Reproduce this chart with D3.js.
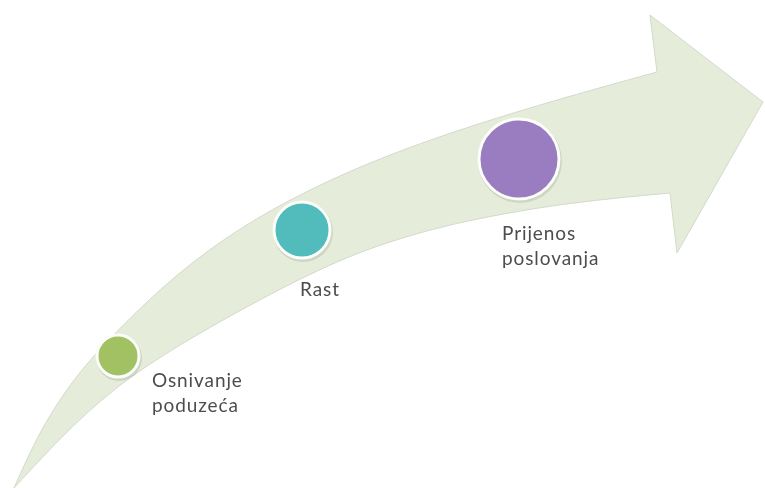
<!DOCTYPE html>
<html>
<head>
<meta charset="utf-8">
<script src="https://cdn.jsdelivr.net/npm/d3@7"></script>
<style>
  body { margin: 0; background: #fff; }
  svg { display: block; }
</style>
</head>
<body>
<script>
//stages of the process
var stages = ["Osnivanje poduzeća", "Rast", "Prijenos poslovanja"];
var stageLines = [["Osnivanje", "poduzeća"], ["Rast"], ["Prijenos", "poslovanja"]];
var stageColors = ["#a2c163", "#52bcbc", "#9a7cc0"];
var stageSize = [1, 2, 3];

drawChart();

function drawChart(){
    var width = 765,
        height = 488;

    var svg = d3.select("body")
        .append("svg")
        .attr("width", width)
        .attr("height", height);

    var defs = svg.append("defs");
    var blur = defs.append("filter").attr("id", "soft")
        .attr("x", "-20%").attr("y", "-20%").attr("width", "140%").attr("height", "140%");
    blur.append("feGaussianBlur").attr("stdDeviation", 0.6);

    //outline of the curved arrow
    var upperEdge = [[14, 488], [40, 430], [70, 384], [100, 348], [160, 288], [223, 238],
                     [300, 193], [400, 149], [530, 107], [657, 72]];
    var head = [[650, 15], [763, 102], [677, 253], [670, 193]];
    var lowerEdge = [[670, 193], [563, 203], [463, 221], [400, 238], [340, 259], [260, 299],
                     [180, 344], [113, 388], [60, 438], [14, 488]];

    var edge = d3.line().curve(d3.curveBasis);
    var d = edge(upperEdge)
        + head.map(function(p){ return "L" + p[0] + "," + p[1]; }).join("")
        + "L" + edge(lowerEdge).slice(1) + "Z";

    svg.append("path")
        .attr("d", d)
        .attr("fill", "#e5edda")
        .attr("stroke", "#d3d9ca")
        .attr("stroke-width", 1)
        .attr("filter", "url(#soft)");

    //scales for stage position and size
    var x = d3.scaleLinear().domain([0, 1, 2]).range([118, 302, 519]);
    var y = d3.scaleLinear().domain([0, 1, 2]).range([356, 230, 159]);
    var r = d3.scaleLinear().domain([1, 2, 3]).range([21, 28, 40]);

    var nodes = svg.selectAll(".stage")
        .data(stages)
        .enter()
        .append("g")
        .attr("class", "stage");

    nodes.append("circle")
        .attr("cx", function(d, i){ return x(i) + 1; })
        .attr("cy", function(d, i){ return y(i) + 2; })
        .attr("r", function(d, i){ return r(stageSize[i]) + 2; })
        .attr("fill", "rgba(0,0,0,0.10)")
        .attr("filter", "url(#soft)");

    nodes.append("circle")
        .attr("cx", function(d, i){ return x(i); })
        .attr("cy", function(d, i){ return y(i); })
        .attr("r", function(d, i){ return r(stageSize[i]); })
        .attr("fill", function(d, i){ return stageColors[i]; })
        .attr("stroke", "#fbfdf8")
        .attr("stroke-width", 3);

    //label anchor offsets from each circle
    var dx = [34, -2, -17],
        dy = [31, 66, 81];

    var labels = nodes.append("text")
        .attr("x", function(d, i){ return x(i) + dx[i]; })
        .attr("y", function(d, i){ return y(i) + dy[i]; })
        .attr("font-family", "Lato, 'Open Sans', sans-serif")
        .attr("font-size", 19)
        .attr("letter-spacing", 0.9)
        .attr("fill", "#4d4d4d")
        .attr("filter", "url(#soft)");

    labels.selectAll("tspan")
        .data(function(d, i){ return stageLines[i].map(function(t){ return {t: t, i: i}; }); })
        .enter()
        .append("tspan")
        .attr("x", function(d){ return x(d.i) + dx[d.i]; })
        .attr("dy", function(d, j){ return j === 0 ? 0 : 25; })
        .text(function(d){ return d.t; });
}
</script>
</body>
</html>
